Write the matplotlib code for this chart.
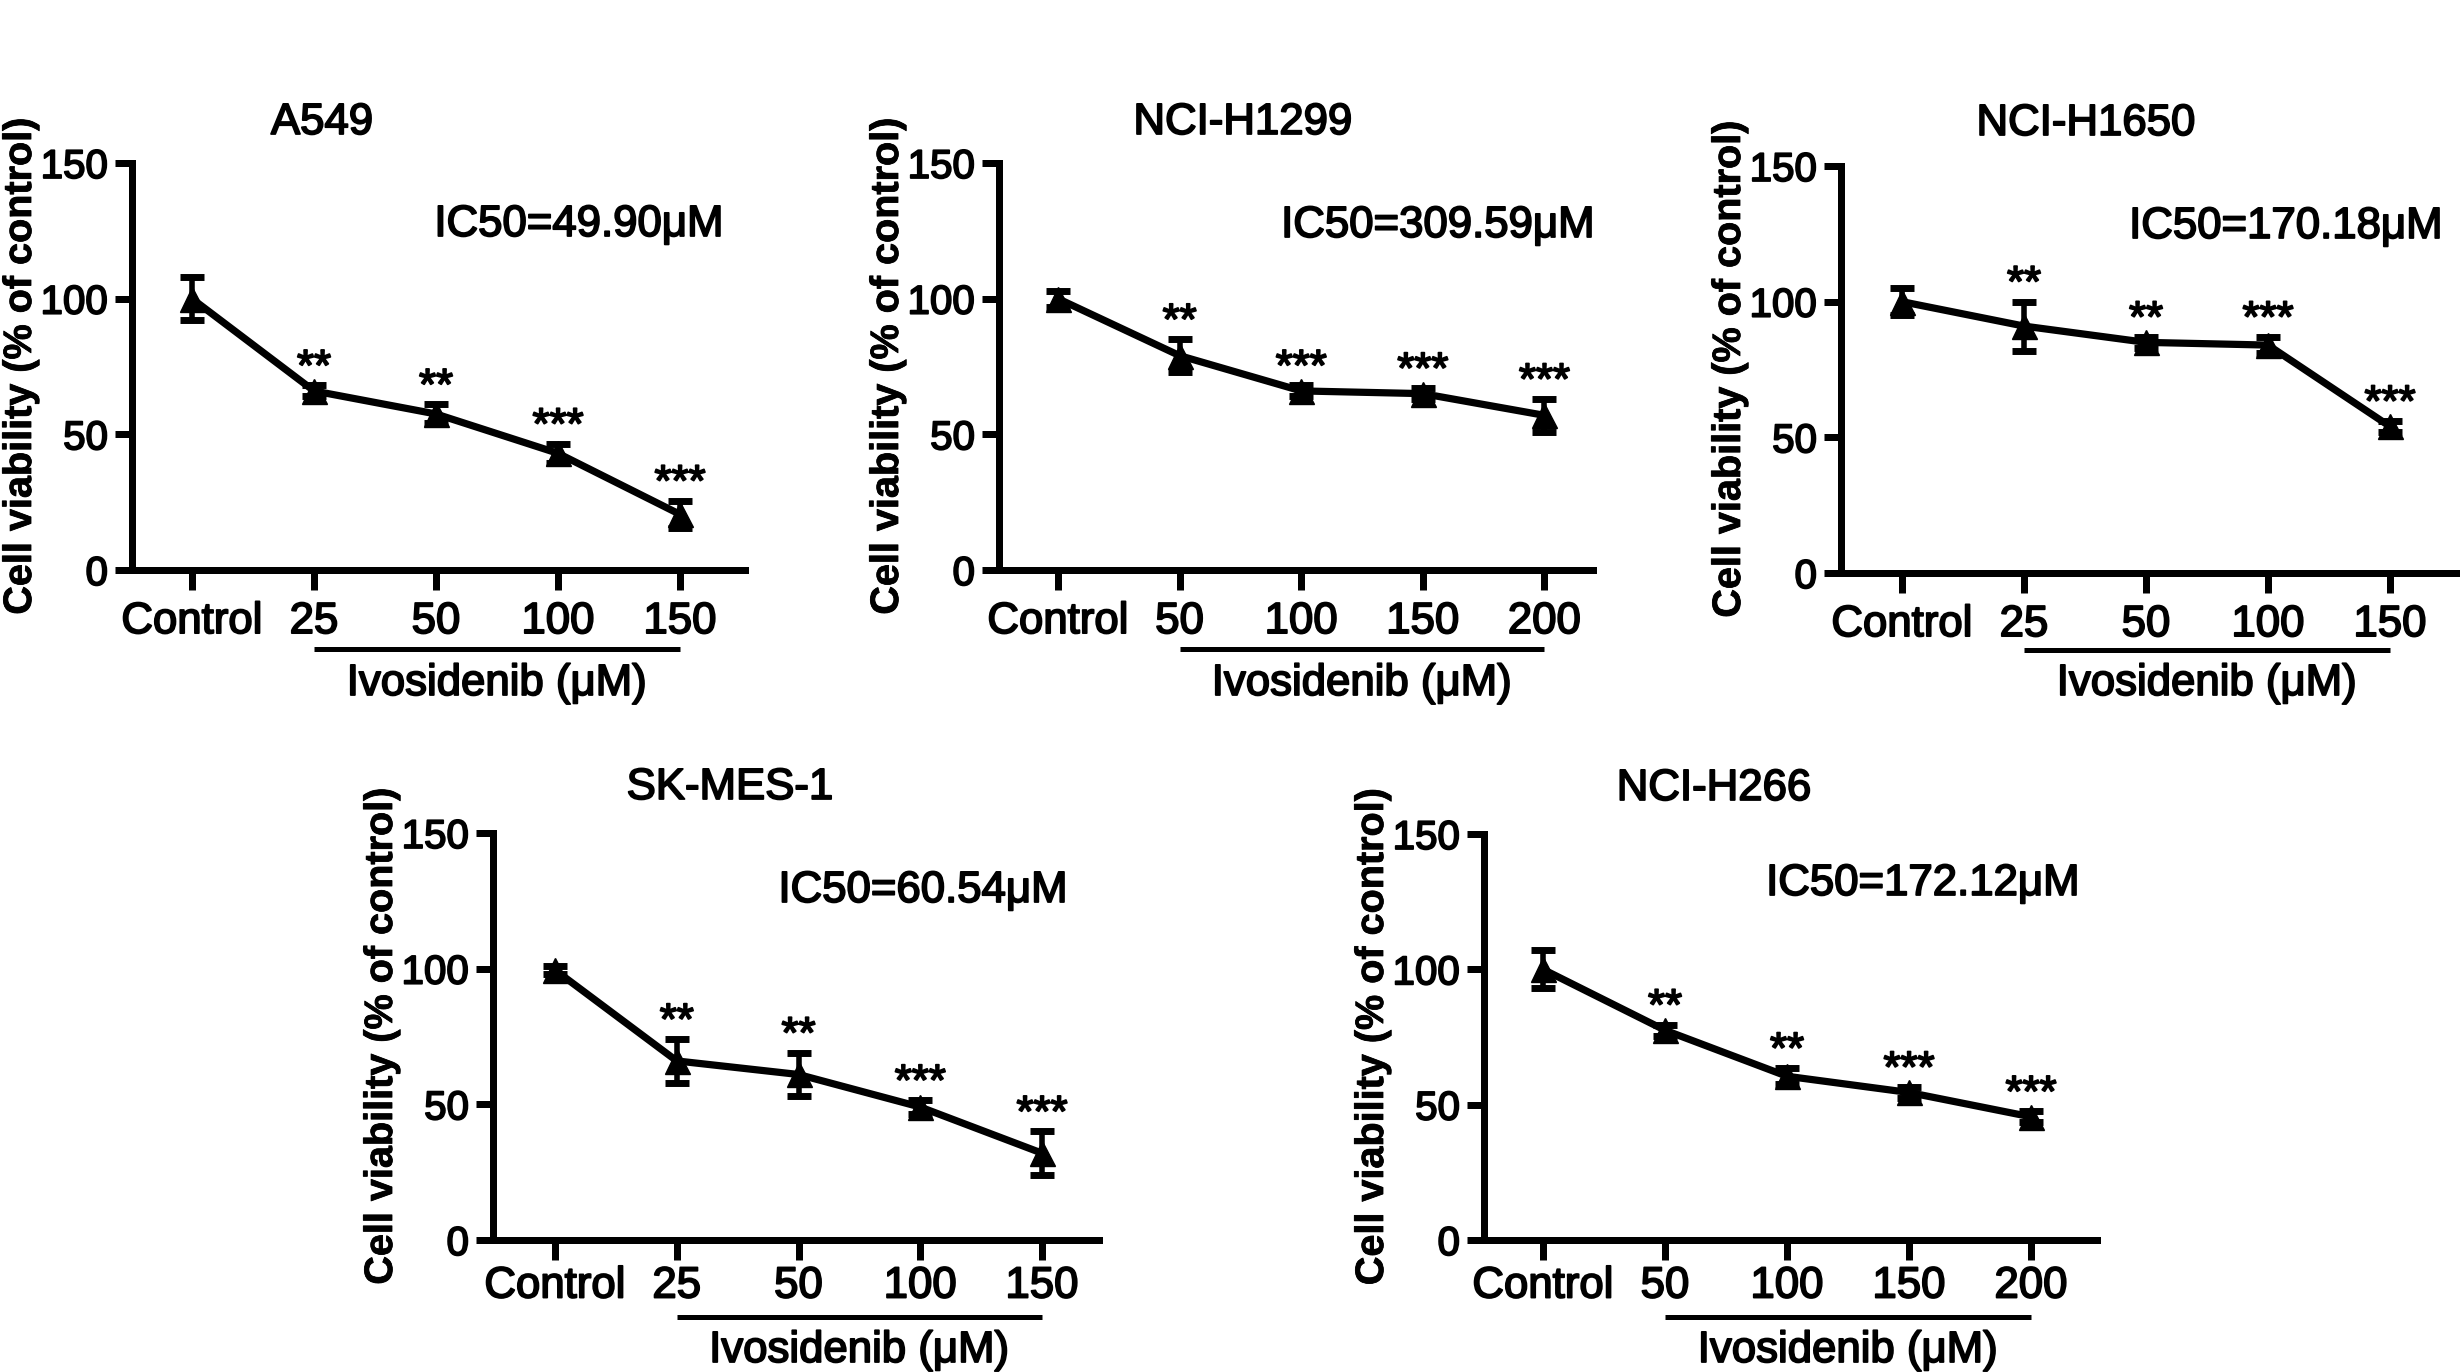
import matplotlib
matplotlib.use("Agg")
import matplotlib.pyplot as plt
import matplotlib.patheffects as pe
from matplotlib.transforms import blended_transform_factory

# ---------------- data ----------------
cell_lines = ["A549", "NCI-H1299", "NCI-H1650", "SK-MES-1", "NCI-H266"]
ic50_labels = ["IC50=49.90μM", "IC50=309.59μM", "IC50=170.18μM",
               "IC50=60.54μM", "IC50=172.12μM"]

doses_a549 = ["Control", "25", "50", "100", "150"]
doses_h1299 = ["Control", "50", "100", "150", "200"]
doses_h1650 = ["Control", "25", "50", "100", "150"]
doses_skmes = ["Control", "25", "50", "100", "150"]
doses_h266 = ["Control", "50", "100", "150", "200"]

viab_a549 = [100, 66, 57.5, 43, 20.5]
sem_a549 = [8, 2, 3.5, 3.5, 5]
viab_h1299 = [100, 79, 66, 65, 57]
sem_h1299 = [3, 6, 2, 2, 6]
viab_h1650 = [100, 91, 85, 84, 54]
sem_h1650 = [5, 9, 2, 3, 2]
viab_skmes = [99.5, 66, 61, 49, 32]
sem_skmes = [1.5, 8, 8, 2.5, 8]
viab_h266 = [100, 77.5, 60.5, 54.5, 45.5]
sem_h266 = [7, 2, 3, 2, 2]

stars_a549 = ["", "**", "**", "***", "***"]
stars_h1299 = ["", "**", "***", "***", "***"]
stars_h1650 = ["", "**", "**", "***", "***"]
stars_skmes = ["", "**", "**", "***", "***"]
stars_h266 = ["", "**", "**", "***", "***"]

y_ticks = [0, 50, 100, 150]
y_label = "Cell viability (% of control)"
x_group_label = "Ivosidenib (μM)"

panels = [
    (doses_a549, viab_a549, sem_a549, stars_a549),
    (doses_h1299, viab_h1299, sem_h1299, stars_h1299),
    (doses_h1650, viab_h1650, sem_h1650, stars_h1650),
    (doses_skmes, viab_skmes, sem_skmes, stars_skmes),
    (doses_h266, viab_h266, sem_h266, stars_h266),
]

# ---------------- layout (pixels) ----------------
W, H, DPI = 2461, 1372, 100
layout = [
    dict(ax=(132, 745, 163, 570), ctrl=192, sp=122, title=(322, 119), ic=(579, 221),
         bar=649, grp=680, xpad=8),
    dict(ax=(999, 1593, 163, 570), ctrl=1058, sp=121.6, title=(1243, 119), ic=(1438, 222),
         bar=649, grp=680, xpad=8),
    dict(ax=(1841, 2456, 166, 573), ctrl=1902, sp=122, title=(2086, 120), ic=(2286, 223),
         bar=650, grp=680, xpad=8),
    dict(ax=(493, 1099, 833, 1240), ctrl=555, sp=121.75, title=(730, 784), ic=(923, 887),
         bar=1317, grp=1347, xpad=4),
    dict(ax=(1484, 2097, 834, 1240), ctrl=1543, sp=122, title=(1714, 785), ic=(1923, 880),
         bar=1317, grp=1347, xpad=4),
]

FS = 31.5
plt.rcParams['font.family'] = ['Liberation Sans', 'DejaVu Sans']
fig = plt.figure(figsize=(W / DPI, H / DPI), dpi=DPI)
fig.patch.set_facecolor("white")
PX = 72.0 / DPI  # points per pixel
THICK = [pe.withStroke(linewidth=1.3, foreground="black")]
THIN = [pe.withStroke(linewidth=0.6, foreground="black")]


def fy(py):
    return 1 - py / H


def fx(px):
    return px / W


for (doses, vals, sems, stars), L in zip(panels, layout):
    left, right, top, bottom = L["ax"]
    ax = fig.add_axes([fx(left), fy(bottom), (right - left) / W, (bottom - top) / H])
    x = list(range(len(doses)))
    ax.errorbar(x, vals, yerr=sems, color="black", lw=5.2, marker="^", ms=18,
                capsize=8.5, capthick=5, elinewidth=4, clip_on=False, zorder=3)
    ax.set_xlim((left - L["ctrl"]) / L["sp"], (right - L["ctrl"]) / L["sp"])
    ax.set_ylim(0, 150)
    ax.set_yticks(y_ticks)
    ax.set_xticks(x)
    ax.set_xticklabels(doses)
    for s in ("top", "right"):
        ax.spines[s].set_visible(False)
    for s in ("left", "bottom"):
        ax.spines[s].set_linewidth(7 * PX)
        ax.spines[s].set_capstyle("projecting")
    ax.tick_params(axis="x", length=20 * PX, width=7 * PX, labelsize=FS, pad=L["xpad"])
    ax.tick_params(axis="y", length=17 * PX, width=7 * PX, labelsize=29, pad=5)
    for lbl in ax.get_xticklabels() + ax.get_yticklabels():
        lbl.set_path_effects(THICK)
    ax.patch.set_alpha(0)

    # significance stars
    for xi, v, e, st in zip(x, vals, sems, stars):
        if st:
            ax.text(xi, v + e + 2, st, ha="center", va="baseline", fontsize=FS,
                    path_effects=THICK)

    # treatment bracket
    tr = blended_transform_factory(ax.transData, fig.transFigure)
    ax.plot([1, len(doses) - 1], [fy(L["bar"])] * 2, transform=tr, color="black",
            lw=5 * PX, clip_on=False, solid_capstyle="butt")
    ax.text((1 + len(doses) - 1) / 2, fy(L["grp"] + 15), x_group_label, transform=tr,
            ha="center", va="baseline", fontsize=FS, path_effects=THICK)

    # y label
    fig.text(fx(left - 112), fy((top + bottom) / 2), y_label, rotation=90,
             ha="center", va="center", fontsize=28.5, fontweight="bold",
             path_effects=THIN)

for name, ic, L in zip(cell_lines, ic50_labels, layout):
    tx, ty = L["title"]
    fig.text(fx(tx), fy(ty + 15), name, ha="center", va="baseline", fontsize=FS,
             path_effects=THICK)
    ix, iy = L["ic"]
    fig.text(fx(ix), fy(iy + 15), ic, ha="center", va="baseline", fontsize=FS,
             path_effects=THICK)

fig.savefig("out.png", dpi=DPI, facecolor="white")
